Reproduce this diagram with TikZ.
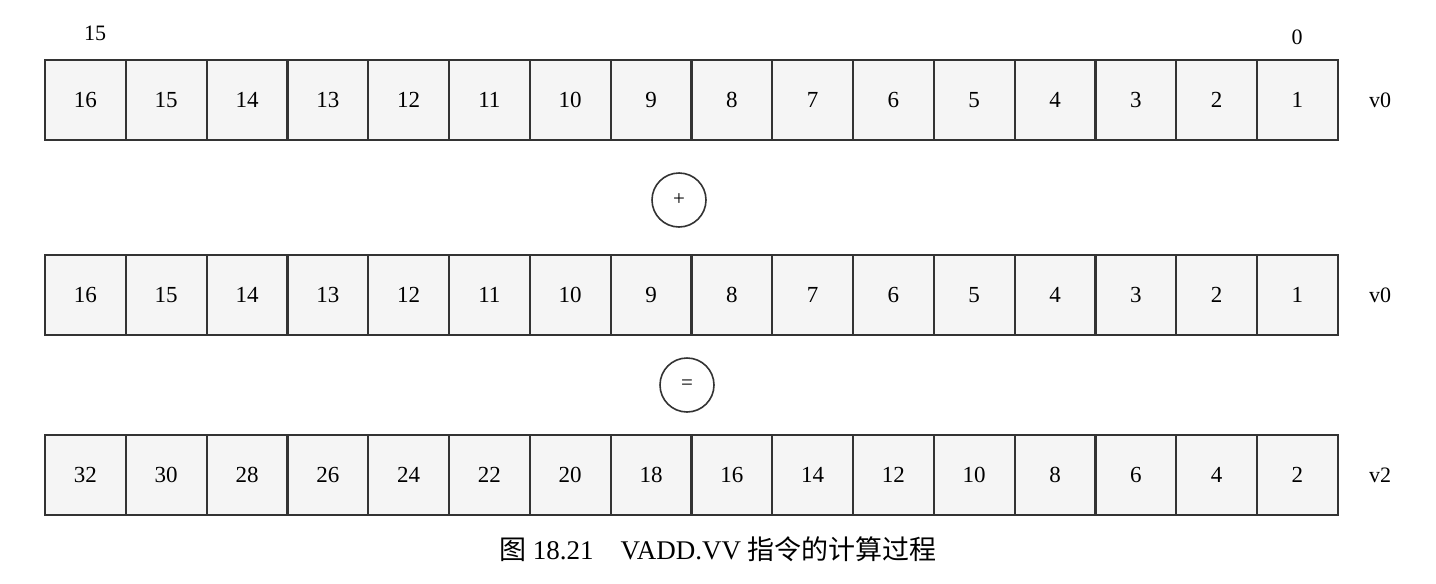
\documentclass[tikz,border=0pt]{standalone}
\usepackage{fontspec}
\setmainfont{Liberation Serif}
\newfontfamily\cjk{Noto Sans CJK SC}
\begin{document}
\begin{tikzpicture}[x=1pt,y=-1pt,
  cell/.style={draw=black!80,line width=2.2pt,fill=black!4,minimum width=80.8pt,minimum height=80pt,inner sep=0pt,font=\fontsize{23}{23}\selectfont},
  op/.style={draw=black!80,line width=1.6pt,circle,minimum size=54pt,inner sep=0pt,font=\fontsize{21}{21}\selectfont},
  lab/.style={font=\fontsize{22}{22}\selectfont}]
\useasboundingbox (0,0) rectangle (1436,584);
\foreach \i in {1,...,16}{
  \pgfmathtruncatemacro{\v}{17-\i}
  \pgfmathtruncatemacro{\w}{2*(17-\i)}
  \node[cell] (a\i) at ({45+80.8*(\i-0.5)},100) {\v};
  \node[cell] (b\i) at ({45+80.8*(\i-0.5)},295) {\v};
  \node[cell] (c\i) at ({45+80.8*(\i-0.5)},475) {\w};
}
\node[lab] (n15) at (95,33) {15};
\node[lab] (n0) at (1297,37) {0};
\node[lab] (r1) at (1380,100) {v0};
\node[lab] (r2) at (1380,295) {v0};
\node[lab] (r3) at (1380,475) {v2};
\node[op] (plus) at (679,200) {+};
\node[op] (eq) at (687,385) {=};
\node[font=\fontsize{27}{27}\selectfont] (cap) at (718,549) {{\cjk 图} 18.21\quad VADD.VV {\cjk 指令的计算过程}};
\end{tikzpicture}
\end{document}
